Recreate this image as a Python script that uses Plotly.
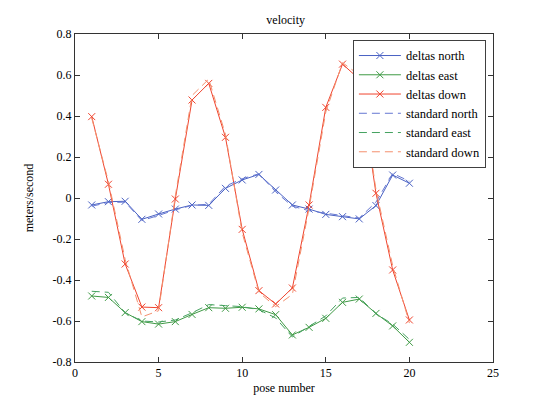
import plotly.graph_objects as go

pose = list(range(1, 21))

deltas_north = [-0.034, -0.018, -0.016, -0.104, -0.078, -0.054, -0.034, -0.036, 0.047, 0.088,
                0.115, 0.039, -0.034, -0.054, -0.080, -0.091, -0.102, -0.037, 0.112, 0.072]
deltas_east = [-0.478, -0.485, -0.559, -0.603, -0.615, -0.603, -0.568, -0.535, -0.538, -0.533,
               -0.541, -0.569, -0.668, -0.631, -0.587, -0.509, -0.493, -0.563, -0.624, -0.704]
deltas_down = [0.397, 0.067, -0.322, -0.532, -0.535, -0.005, 0.478, 0.559, 0.296, -0.153,
               -0.452, -0.517, -0.439, -0.034, 0.442, 0.653, 0.580, 0.023, -0.351, -0.595]

standard_north = [-0.040, -0.022, -0.020, -0.110, -0.085, -0.058, -0.036, -0.030, 0.058, 0.094,
                  0.118, 0.030, -0.040, -0.062, -0.074, -0.086, -0.098, -0.020, 0.120, 0.082]
standard_east = [-0.455, -0.460, -0.560, -0.600, -0.605, -0.595, -0.560, -0.520, -0.525, -0.530,
                 -0.545, -0.585, -0.678, -0.625, -0.575, -0.488, -0.485, -0.565, -0.615, -0.690]
standard_down = [0.390, 0.080, -0.300, -0.580, -0.550, 0.010, 0.500, 0.580, 0.310, -0.170,
                 -0.460, -0.530, -0.470, -0.050, 0.420, 0.660, 0.600, 0.040, -0.330, -0.610]

x_ticks = [0, 5, 10, 15, 20, 25]
y_ticks = [-0.8, -0.6, -0.4, -0.2, 0, 0.2, 0.4, 0.6, 0.8]
y_tick_labels = ["-0.8", "-0.6", "-0.4", "-0.2", "0", "0.2", "0.4", "0.6", "0.8"]

FONT = "Liberation Serif, Times New Roman, serif"

solid = [
    ("deltas north", deltas_north, "#4a62c4"),
    ("deltas east", deltas_east, "#3f9a45"),
    ("deltas down", deltas_down, "#f0442e"),
]
dashed = [
    ("standard north", standard_north, "#6577d2"),
    ("standard east", standard_east, "#45a260"),
    ("standard down", standard_down, "#f4906e"),
]

fig = go.Figure()
for name, vals, col in solid:
    fig.add_trace(go.Scatter(
        x=pose, y=vals, name=name, mode="lines+markers",
        line=dict(color=col, width=1),
        marker=dict(symbol="x-thin", size=7, line=dict(width=1, color=col), color=col),
    ))
for name, vals, col in dashed:
    fig.add_trace(go.Scatter(
        x=pose, y=vals, name=name, mode="lines",
        line=dict(color=col, width=1, dash="8px,5px"),
    ))

# page body has an 8px margin; the figure is sized to fit inside it
fig.update_layout(
    width=519, height=389,
    margin=dict(l=67, r=34, t=26, b=35),
    paper_bgcolor="white", plot_bgcolor="white",
    font=dict(family=FONT, size=12, color="black"),
    title=dict(text="velocity", x=0.535, xanchor="center", y=0.97, yanchor="middle",
               font=dict(family=FONT, size=12)),
    showlegend=True,
    legend=dict(x=0.983, y=0.982, xanchor="right", yanchor="top",
                bgcolor="white", bordercolor="#404040", borderwidth=1,
                font=dict(family=FONT, size=12.5), tracegroupgap=0,
                itemwidth=42),
    xaxis=dict(range=[0, 25], tickvals=x_ticks, ticks="inside", ticklen=5,
               mirror="ticks", showline=True, linecolor="#333333", linewidth=1,
               showgrid=False, zeroline=False, tickcolor="#333333", automargin=False,
               title=dict(text="pose number", standoff=4, font=dict(family=FONT, size=12))),
    yaxis=dict(range=[-0.8, 0.8], tickvals=y_ticks, ticktext=y_tick_labels,
               ticks="inside", ticklen=5, mirror="ticks", showline=True,
               linecolor="#333333", linewidth=1, showgrid=False, zeroline=False,
               tickcolor="#333333", automargin=False,
               title=dict(text="meters/second", standoff=16, font=dict(family=FONT, size=12))),
)

fig.write_html("out.html")
